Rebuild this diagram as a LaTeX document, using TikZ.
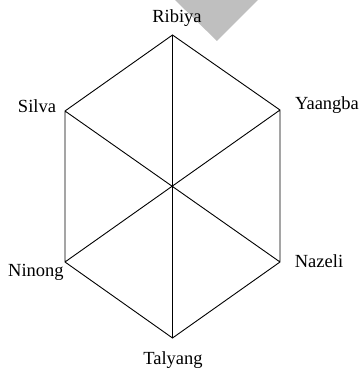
\documentclass[tikz,border=0pt]{standalone}
\usepackage{fontspec}
\setmainfont{Liberation Serif}
\usepackage{tikz}

\begin{document}
\begin{tikzpicture}[x=1pt, y=1pt]
    \tikzstyle{tribe} = [inner sep=0pt, font=\fontsize{18.5}{20}\selectfont]
    \tikzstyle{side} = [draw, black, line width=0.9pt]
	\useasboundingbox (0,0) rectangle (364,373);
	\fill[black!25] (175,373) -- (258,373) -- (217,332) -- cycle;

	% hexagon corners
	\coordinate (R) at (172.5,338);
	\coordinate (Y) at (280,263);
	\coordinate (N) at (280,111);
	\coordinate (T) at (172.5,35);
	\coordinate (I) at (65,111);
	\coordinate (S) at (65,262);

	\path
		node[tribe] (lR) at (177,355) {Ribiya}
		node[tribe] (lY) at (327,268) {Yaangba}
		node[tribe] (lN) at (319,112) {Nazeli}
		node[tribe] (lT) at (173,13) {Talyang}
		node[tribe] (lI) at (36,101) {Ninong}
		node[tribe] (lS) at (37,267) {Silva}
	;

	\path[side]
		(R) -- (Y) -- (N) -- (T) -- (I) -- (S) -- cycle
		(R) -- (T)
		(S) -- (N)
		(Y) -- (I)
	;
\end{tikzpicture}
\end{document}
